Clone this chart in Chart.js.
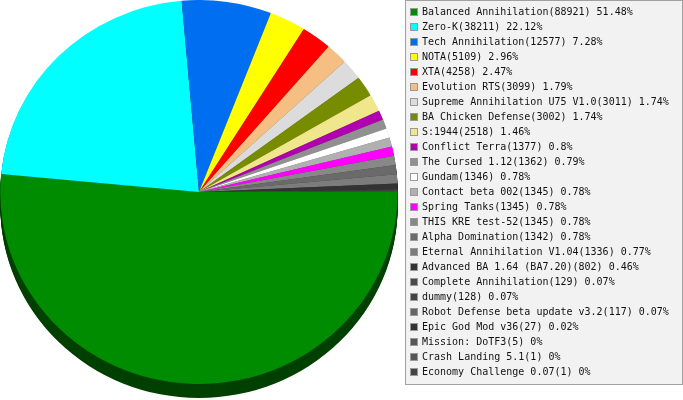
<!DOCTYPE html>
<html>
<head>
<meta charset="utf-8">
<script src="https://cdn.jsdelivr.net/npm/chart.js@4.4.0/dist/chart.umd.min.js"></script>
<style>
  body { margin: 0; background: #fff; }
  #wrap { width: 683px; height: 400px; position: relative; }
</style>
</head>
<body>
<div id="wrap"><canvas id="graficoMods"></canvas></div>
<script>
// Datos del grafico
var nombres = ['Balanced Annihilation', 'Zero-K', 'Tech Annihilation', 'NOTA', 'XTA',
  'Evolution RTS', 'Supreme Annihilation U75 V1.0', 'BA Chicken Defense', 'S:1944',
  'Conflict Terra', 'The Cursed 1.12', 'Gundam', 'Contact beta 002', 'Spring Tanks',
  'THIS KRE test-52', 'Alpha Domination', 'Eternal Annihilation V1.04',
  'Advanced BA 1.64 (BA7.20)', 'Complete Annihilation', 'dummy',
  'Robot Defense beta update v3.2', 'Epic God Mod v36', 'Mission: DoTF3',
  'Crash Landing 5.1', 'Economy Challenge 0.07'];
var partidas = [88921, 38211, 12577, 5109, 4258, 3099, 3011, 3002, 2518, 1377, 1362,
  1346, 1345, 1345, 1345, 1342, 1336, 802, 129, 128, 117, 27, 5, 1, 1];
var porcentajes = ['51.48%', '22.12%', '7.28%', '2.96%', '2.47%', '1.79%', '1.74%',
  '1.74%', '1.46%', '0.8%', '0.79%', '0.78%', '0.78%', '0.78%', '0.78%', '0.78%',
  '0.77%', '0.46%', '0.07%', '0.07%', '0.07%', '0.02%', '0%', '0%', '0%'];
var colores = ['#008c00', '#00ffff', '#006ef0', '#ffff00', '#ff0000', '#f5be82',
  '#dcdcdc', '#788c00', '#f0e68c', '#b000b0', '#909090', '#ffffff', '#b0b0b0',
  '#ff00ff', '#888888', '#6a6a6a', '#7c7c7c', '#333333', '#4a4a4a', '#444444',
  '#666666', '#333333', '#555555', '#555555', '#444444'];

const PROFUNDIDAD = 14;
const ESTIRAR_X = 1.035; // el pastel original es un poco mas ancho que alto

function oscurecer(hex) {
  var n = parseInt(hex.slice(1), 16);
  var r = Math.round(((n >> 16) & 255) * 0.46);
  var g = Math.round(((n >> 8) & 255) * 0.46);
  var b = Math.round((n & 255) * 0.46);
  return 'rgb(' + r + ',' + g + ',' + b + ')';
}

// Borde 3D debajo del pastel + estirado horizontal
const borde3d = {
  id: 'borde3d',
  beforeDatasetsDraw(chart) {
    const ctx = chart.ctx;
    const meta = chart.getDatasetMeta(0);
    const cx = meta.data[0].x;
    ctx.save();
    ctx.translate(cx, 0);
    ctx.scale(ESTIRAR_X, 1);
    ctx.translate(-cx, 0);
    meta.data.forEach(function (arc, i) {
      const p = arc.getProps(['x', 'y', 'startAngle', 'endAngle', 'outerRadius'], true);
      ctx.fillStyle = oscurecer(colores[i]);
      for (let d = PROFUNDIDAD; d >= 1; d--) {
        ctx.beginPath();
        ctx.moveTo(p.x, p.y + d);
        ctx.arc(p.x, p.y + d, p.outerRadius, p.startAngle, p.endAngle);
        ctx.closePath();
        ctx.fill();
      }
    });
  },
  afterDatasetsDraw(chart) {
    chart.ctx.restore();
  }
};

// Leyenda con caja gris a la derecha
const leyenda = {
  id: 'leyenda',
  afterDraw(chart) {
    const ctx = chart.ctx;
    ctx.save();
    ctx.fillStyle = '#f2f2f2';
    ctx.fillRect(405, 0, 277, 384);
    ctx.strokeStyle = '#a0a0a0';
    ctx.lineWidth = 1;
    ctx.strokeRect(405.5, 0.5, 277, 384);
    ctx.font = '10px "DejaVu Sans Mono"';
    ctx.textBaseline = 'middle';
    nombres.forEach(function (nombre, i) {
      const cy = 12 + 15 * i;
      ctx.fillStyle = '#999999';
      ctx.fillRect(410, cy - 4, 8, 8);
      ctx.fillStyle = colores[i];
      ctx.fillRect(411, cy - 3, 6, 6);
      ctx.fillStyle = '#111111';
      ctx.fillText(nombre + '(' + partidas[i] + ') ' + porcentajes[i], 422, cy + 0.5);
    });
    ctx.restore();
  }
};

new Chart(document.getElementById('graficoMods'), {
  type: 'pie',
  data: {
    labels: nombres,
    datasets: [{
      data: partidas,
      backgroundColor: colores,
      borderWidth: 0
    }]
  },
  options: {
    responsive: true,
    maintainAspectRatio: false,
    animation: false,
    rotation: 90,
    layout: { padding: { left: 0, top: 0, right: 285, bottom: 16 } },
    plugins: {
      legend: { display: false },
      tooltip: { enabled: false },
      title: { display: false }
    }
  },
  plugins: [borde3d, leyenda]
});
</script>
</body>
</html>
